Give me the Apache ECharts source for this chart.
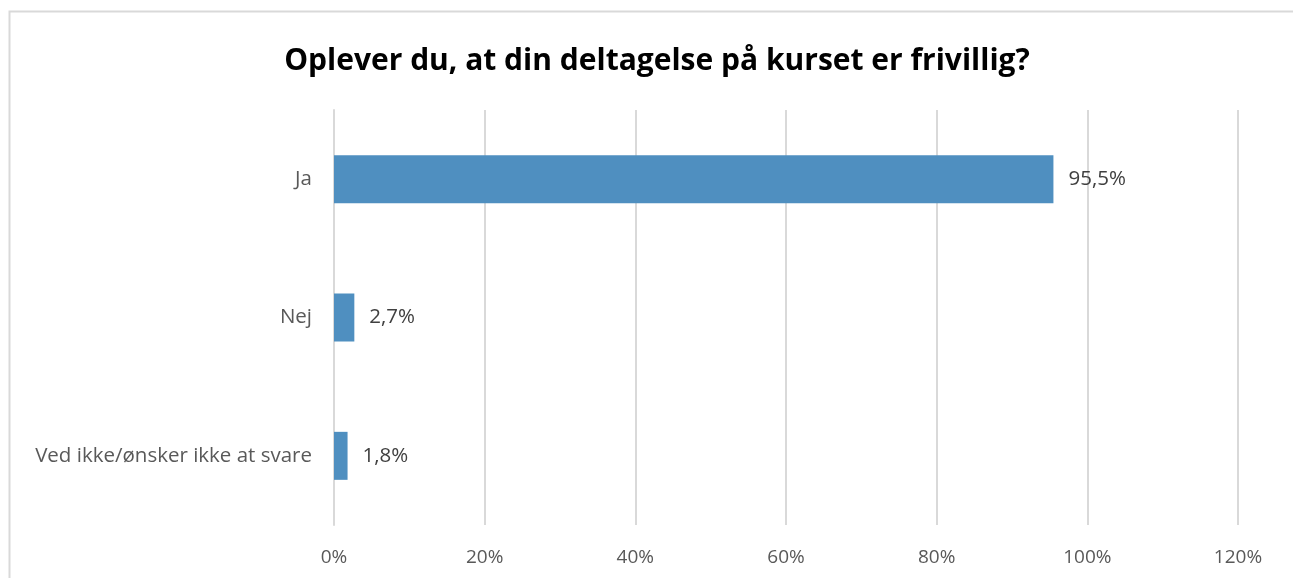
<!DOCTYPE html>
<html>
<head>
<meta charset="utf-8">
<script src="https://cdn.jsdelivr.net/npm/echarts@6/dist/echarts.min.js"></script>
<style>
  html, body { margin: 0; padding: 0; background: #fff; }
  #chart { width: 1293px; height: 578px; }
</style>
</head>
<body>
<div id="chart"></div>
<script>
  // data
  const categories = ['Ja', 'Nej', 'Ved ikke/ønsker ikke at svare'];
  const values = [95.5, 2.7, 1.8];
  const xTicks = [0, 20, 40, 60, 80, 100, 120];

  const font = '"Open Sans", "Noto Sans", sans-serif';
  const chart = echarts.init(document.getElementById('chart'));

  const option = {
    animation: false,
    title: {
      text: 'Oplever du, at din deltagelse på kurset er frivillig?',
      left: 652,
      textAlign: 'center',
      top: 41,
      textStyle: { fontFamily: font, fontSize: 30, fontWeight: 'bold', color: '#000' }
    },
    graphic: [{
      type: 'rect',
      shape: { x: 9.5, y: 11.5, width: 1320, height: 600 },
      style: { fill: 'none', stroke: '#d9d9d9', lineWidth: 2 },
      silent: true
    }],
    grid: { left: 334, right: 55, top: 110, bottom: 53 },
    xAxis: {
      type: 'value',
      min: xTicks[0],
      max: xTicks[xTicks.length - 1],
      interval: 20,
      axisLine: { show: false },
      axisTick: { show: false },
      splitLine: { lineStyle: { color: '#d9d9d9', width: 2 } },
      axisLabel: {
        margin: 23,
        fontFamily: font,
        fontSize: 19,
        color: '#595959',
        formatter: v => v + '%'
      }
    },
    yAxis: {
      type: 'category',
      data: categories,
      inverse: true,
      axisLine: { show: true, lineStyle: { color: '#d9d9d9', width: 2 } },
      axisTick: { show: false },
      axisLabel: { margin: 22, fontFamily: font, fontSize: 20.5, color: '#595959' }
    },
    series: [{
      type: 'bar',
      data: values,
      barWidth: 48,
      itemStyle: { color: '#4f8fc0' },
      label: {
        show: true,
        position: 'right',
        distance: 15,
        fontFamily: font,
        fontSize: 20.5,
        color: '#404040',
        formatter: p => p.value.toFixed(1).replace('.', ',') + '%'
      }
    }]
  };

  chart.setOption(option);
</script>
</body>
</html>
